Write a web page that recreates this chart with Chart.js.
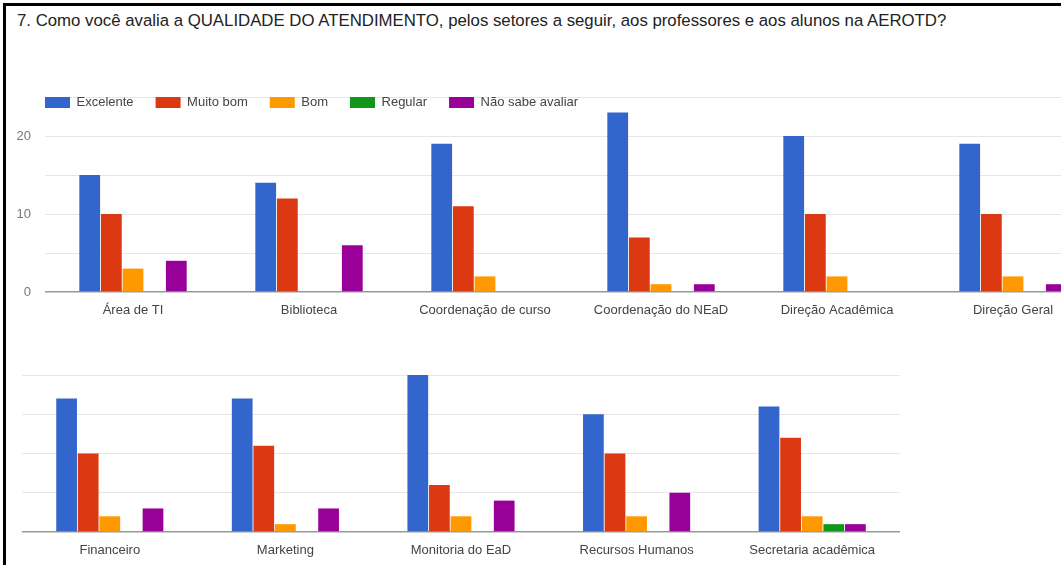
<!DOCTYPE html>
<html>
<head>
<meta charset="utf-8">
<script src="https://cdn.jsdelivr.net/npm/chart.js@4.4.0/dist/chart.umd.min.js"></script>
<style>
  body { margin: 0; background: #fff; overflow: hidden; width: 1061px; height: 565px; position: relative; }
  #frame { position: absolute; left: 3px; top: 3px; width: 1058px; height: 562px; border-top: 3px solid #000; border-left: 3px solid #000; }
  #title { position: absolute; left: 17px; top: 11px; font-family: Arial, "Liberation Sans", sans-serif; font-size: 16.8px; color: #222; white-space: nowrap; }
  #topBox { position: absolute; left: 0; top: 70px; width: 1101px; height: 252px; }
  #bottomBox { position: absolute; left: 22px; top: 375px; width: 878px; height: 187px; }
</style>
</head>
<body>
<div id="frame"></div>
<div id="title">7. Como você avalia a QUALIDADE DO ATENDIMENTO, pelos setores a seguir, aos professores e aos alunos na AEROTD?</div>
<div id="topBox"><canvas id="topChart"></canvas></div>
<div id="bottomBox"><canvas id="bottomChart"></canvas></div>
<script>
const seriesNames = ["Excelente", "Muito bom", "Bom", "Regular", "Não sabe avaliar"];
const colors = ["#3366cc", "#dc3912", "#ff9900", "#109618", "#990099"];

// first row of sectors
const topLabels = ["Área de TI", "Biblioteca", "Coordenação de curso", "Coordenação do NEaD", "Direção Acadêmica", "Direção Geral"];
const topExcelente = [15, 14, 19, 23, 20, 19];
const topMuitoBom  = [10, 12, 11, 7, 10, 10];
const topBom       = [3, 0, 2, 1, 2, 2];
const topRegular   = [0, 0, 0, 0, 0, 0];
const topNaoSabe   = [4, 6, 0, 1, 0, 1];

// second row of sectors
const bottomLabels = ["Financeiro", "Marketing", "Monitoria do EaD", "Recursos Humanos", "Secretaria acadêmica"];
const bottomExcelente = [17, 17, 20, 15, 16];
const bottomMuitoBom  = [10, 11, 6, 10, 12];
const bottomBom       = [2, 1, 2, 2, 2];
const bottomRegular   = [0, 0, 0, 0, 1];
const bottomNaoSabe   = [3, 3, 4, 5, 1];

const font = 'Arial, "Liberation Sans", sans-serif';

// google-style legend: sits over the top of the plot, lined up with the axis
const legendOverlay = {
  id: 'legendOverlay',
  beforeInit(chart) {
    const fit = chart.legend.fit;
    chart.legend.fit = function () { fit.call(this); this.height = 27; };
  },
  afterLayout(chart) {
    const lg = chart.legend;
    lg.left = 23;
    lg.top = 4;
    lg.bottom = 50; // don't let the clip cut the row off
  },
};

function makeDatasets(rows) {
  return rows.map((d, i) => ({
    label: seriesNames[i],
    data: d,
    backgroundColor: colors[i],
    borderWidth: 0,
    categoryPercentage: 0.615,
    barPercentage: 0.96,
  }));
}

function makeOptions(showLegend, showYLabels, yMax, yWidth) {
  return {
    responsive: true,
    maintainAspectRatio: false,
    animation: false,
    layout: { padding: 0 },
    plugins: {
      tooltip: { enabled: false },
      legend: {
        display: showLegend,
        position: 'top',
        align: 'start',
        labels: {
          boxWidth: 25,
          boxHeight: 11,
          padding: 22,
          color: '#444',
          font: { family: font, size: 13 },
        },
      },
    },
    scales: {
      x: {
        grid: { display: false },
        border: { display: false },
        ticks: { color: '#444', font: { family: font, size: 13 }, padding: 3, maxRotation: 0, autoSkip: false },
        afterFit: (s) => { s.height = 30; },
      },
      y: {
        min: 0,
        max: yMax,
        border: { display: false },
        grid: {
          color: (c) => c.tick.value === 0 ? '#999' : '#e6e6e6',
          lineWidth: (c) => c.tick.value === 0 ? 1.5 : 1,
          drawTicks: false,
        },
        ticks: {
          display: showYLabels,
          stepSize: 5,
          color: '#777',
          padding: 14,
          font: { family: font, size: 13 },
          callback: (v) => v % 10 === 0 ? v : '',
        },
        afterFit: (s) => { s.width = yWidth; },
      },
    },
  };
}

new Chart(document.getElementById("topChart"), {
  type: "bar",
  data: {
    labels: topLabels,
    datasets: makeDatasets([topExcelente, topMuitoBom, topBom, topRegular, topNaoSabe]),
  },
  options: makeOptions(true, true, 25, 45),
  plugins: [legendOverlay],
});

new Chart(document.getElementById("bottomChart"), {
  type: "bar",
  data: {
    labels: bottomLabels,
    datasets: makeDatasets([bottomExcelente, bottomMuitoBom, bottomBom, bottomRegular, bottomNaoSabe]),
  },
  options: makeOptions(false, false, 20, 0),
});
</script>
</body>
</html>
